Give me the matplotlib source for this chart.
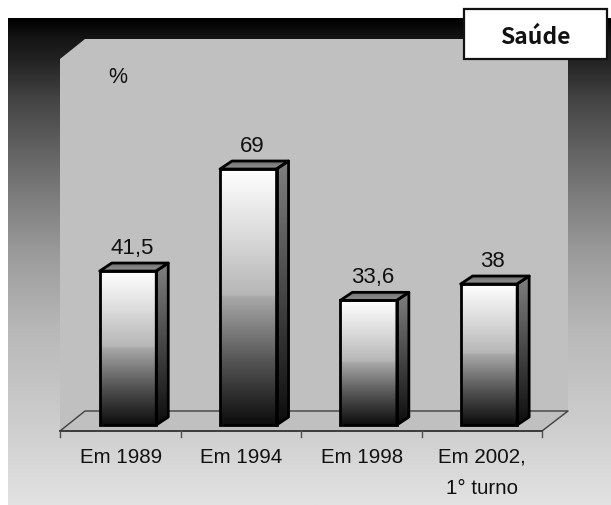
import numpy as np
import matplotlib
matplotlib.use("Agg")
import matplotlib.pyplot as plt
from matplotlib.patches import Polygon, Rectangle
from matplotlib.colors import LinearSegmentedColormap

categories = ["Em 1989", "Em 1994", "Em 1998", "Em 2002,\n1° turno"]
values = [41.5, 69, 33.6, 38]
value_labels = ["41,5", "69", "33,6", "38"]
unit_label = "%"
panel_title = "Saúde"

plt.rcParams["font.family"] = ["Liberation Sans", "DejaVu Sans"]
W, H = 611, 506
DPI = 100
fig = plt.figure(figsize=(W / DPI, H / DPI), dpi=DPI, facecolor="white")
ax = fig.add_axes([0, 0, 1, 1])

# scales: one category = 120.3 px, one percentage point = 3.71 px
PX_X, PX_Y = 120.3, 3.71
X0, Y0 = 128, 426
fx = lambda p: (p - X0) / PX_X
fy = lambda p: (Y0 - p) / PX_Y
ax.axis("off")

# outer gradient panel
TOP, BOT = 19, 506
stops = [(19, "#000000"), (40, "#161616"), (60, "#222222"), (100, "#444444"), (150, "#626262"),
         (200, "#7e7e7e"), (253, "#9a9a9a"), (330, "#b8b8b8"), (420, "#cccccc"), (506, "#e2e2e2")]
bg = LinearSegmentedColormap.from_list("bg", [((p - TOP) / (BOT - TOP), c) for p, c in stops])
ax.imshow(np.linspace(0, 1, 256)[:, None], cmap=bg, aspect="auto", zorder=0,
          extent=(fx(8), fx(611), fy(BOT), fy(TOP)))

# wall and floor
wall = [(60, 60), (85, 40), (568, 40), (568, 412), (542, 432), (60, 432)]
ax.add_patch(Polygon([(fx(a), fy(b)) for a, b in wall], closed=True, fc="#c0c0c0", ec="none", zorder=1))
ax.plot([fx(60), fx(85), fx(568), fx(542)], [fy(432), fy(412), fy(412), fy(432)],
        color="#404040", lw=1, zorder=2)
ax.plot([fx(60), fx(542)], [fy(432), fy(432)], color="#303030", lw=1.3, zorder=2)
for i in range(5):
    px = 60 + i * (542 - 60) / 4
    ax.plot([fx(px), fx(px)], [fy(432), fy(438)], color="#505050", lw=1, zorder=2)

# bars
front = LinearSegmentedColormap.from_list("front", [(0, "#ffffff"), (0.25, "#dcdcdc"), (0.49, "#b6b6b6"),
                                                    (0.5, "#a8a8a8"), (0.75, "#555555"), (1, "#0c0c0c")])
side = LinearSegmentedColormap.from_list("side", ["#808080", "#0c0c0c"])
topc = LinearSegmentedColormap.from_list("topc", ["#707070", "#929292"])
DX, DY = 12 / PX_X, 8 / PX_Y
BW = 56.5 / PX_X
grad = np.linspace(0, 1, 256)[:, None]
ax.bar(range(len(values)), values, width=BW, fc="none", ec="black", lw=2, zorder=6)
for i, v in enumerate(values):
    l, r = i - BW / 2, i + BW / 2
    im = ax.imshow(grad, cmap=front, aspect="auto", extent=(l, r, 0, v), zorder=4)
    im.set_clip_path(Rectangle((l, 0), BW, v, transform=ax.transData))
    s = Polygon([(r, 0), (r + DX, DY), (r + DX, v + DY), (r, v)], closed=True, fc="none", ec="black", lw=2,
                zorder=5, joinstyle="round")
    ax.add_patch(s)
    im = ax.imshow(grad, cmap=side, aspect="auto", extent=(r, r + DX, 0, v + DY), zorder=3)
    im.set_clip_path(Polygon(s.get_xy(), transform=ax.transData))
    t = Polygon([(l, v), (l + DX, v + DY), (r + DX, v + DY), (r, v)], closed=True, fc="none", ec="black", lw=2,
                zorder=5, joinstyle="round")
    ax.add_patch(t)
    im = ax.imshow(grad, cmap=topc, aspect="auto", extent=(l, r + DX, v, v + DY), zorder=3)
    im.set_clip_path(Polygon(t.get_xy(), transform=ax.transData))
    ax.text(i + 4 / PX_X, v + 18 / PX_Y, value_labels[i], ha="center", va="baseline", fontsize=16,
            color="#111111", zorder=7)

for i, c in enumerate(categories):
    for k, line in enumerate(c.split("\n")):
        ax.text(i - 7 / PX_X, fy(463 + 31 * k), line, ha="center", va="baseline", fontsize=14.8,
                color="#111111", zorder=7)

ax.text(fx(118), fy(83), unit_label, ha="center", va="baseline", fontsize=15.5, color="#111111", zorder=7)

# title box
ax.add_patch(Rectangle((fx(463.5), fy(60)), 143 / PX_X, 50 / PX_Y, fc="white", ec="#111111", lw=1.6, zorder=8))
ax.text(fx(535), fy(44), panel_title, ha="center", va="baseline", fontsize=16.5, fontweight="bold",
        family=["Noto Sans CJK JP", "DejaVu Sans"], color="#111111", zorder=9)

ax.set_xlim((0 - X0) / PX_X, (W - X0) / PX_X)
ax.set_ylim((Y0 - H) / PX_Y, Y0 / PX_Y)
fig.savefig("out.png", dpi=DPI, facecolor="white")
